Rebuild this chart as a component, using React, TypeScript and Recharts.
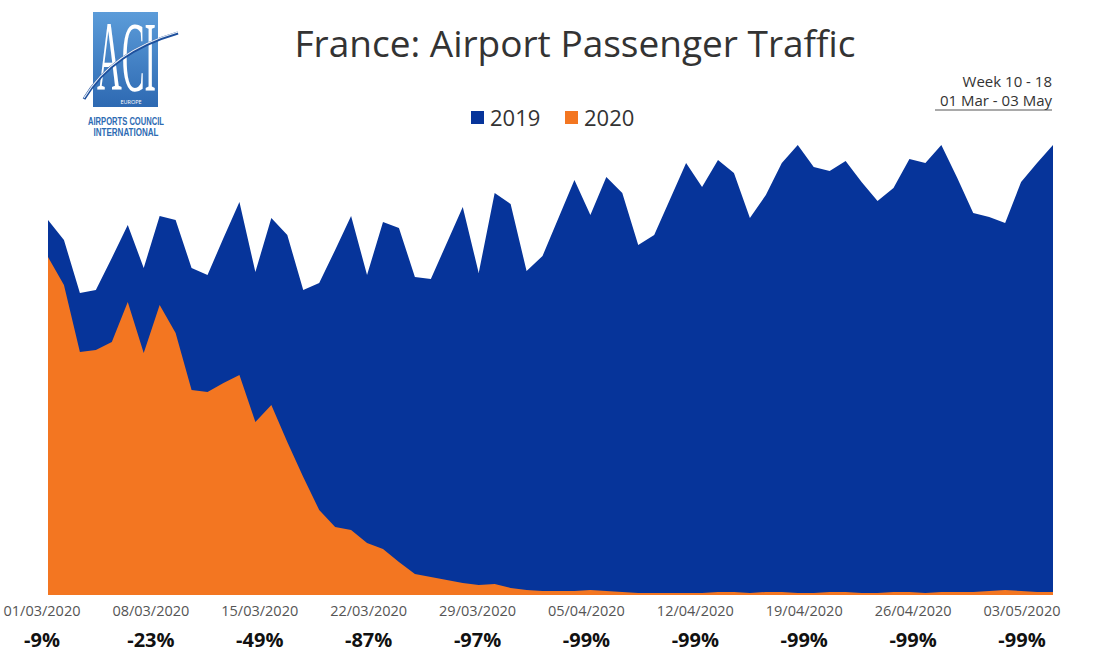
import React from "react";
import { AreaChart, Area, XAxis, YAxis, LineChart } from "recharts";

const dates: string[] = [
  "01/03","02/03","03/03","04/03","05/03","06/03","07/03","08/03","09/03","10/03",
  "11/03","12/03","13/03","14/03","15/03","16/03","17/03","18/03","19/03","20/03",
  "21/03","22/03","23/03","24/03","25/03","26/03","27/03","28/03","29/03","30/03",
  "31/03","01/04","02/04","03/04","04/04","05/04","06/04","07/04","08/04","09/04",
  "10/04","11/04","12/04","13/04","14/04","15/04","16/04","17/04","18/04","19/04",
  "20/04","21/04","22/04","23/04","24/04","25/04","26/04","27/04","28/04","29/04",
  "30/04","01/05","02/05","03/05",
];

// daily passengers (thousands, approximate)
const pax2019: number[] = [
  375,355,302,305,337,370,327,379,375,327,
  320,357,393,323,377,360,305,312,345,379,
  320,373,367,318,316,352,388,322,402,391,
  324,339,377,415,380,418,402,350,360,396,
  432,408,435,422,377,400,432,450,428,424,
  434,413,394,407,436,432,450,417,382,378,
  372,413,432,450,
];

const pax2020: number[] = [
  338,310,243,245,253,293,242,290,262,205,
  203,212,220,173,190,153,118,85,68,65,
  52,46,33,21,18,15,12,10,11,7,
  5,4,4,4,5,4,3,2,2,2,
  2,2,3,3,2,3,3,2,2,3,
  3,2,2,3,3,2,3,3,3,4,
  5,4,3,3,
];

const weekDates: string[] = [
  "01/03/2020","08/03/2020","15/03/2020","22/03/2020","29/03/2020",
  "05/04/2020","12/04/2020","19/04/2020","26/04/2020","03/05/2020",
];
const weekChanges: string[] = ["-9%","-23%","-49%","-87%","-97%","-99%","-99%","-99%","-99%","-99%"];

const series = [
  { key: "y2019", name: "2019", color: "#06349a" },
  { key: "y2020", name: "2020", color: "#f37621" },
];

const data = dates.map((d, i) => ({ date: d, y2019: pax2019[i], y2020: pax2020[i] }));
const weekData = weekDates.map((d, i) => ({ week: d, change: weekChanges[i] }));

const FONT = "'Open Sans', 'Liberation Sans', sans-serif";

const WeekTick = (props: any) => {
  const { x, y, payload, index } = props;
  return (
    <g>
      <text x={x} y={y + 13} textAnchor="middle" fontFamily={FONT} fontSize={14.5} fill="#555555">
        {payload.value}
      </text>
      <text x={x} y={y + 44} textAnchor="middle" fontFamily={FONT} fontSize={20} fontWeight={700} fill="#111111">
        {weekChanges[index]}
      </text>
    </g>
  );
};

const Logo = () => (
  <svg width={300} height={150} style={{ position: "absolute", left: 0, top: 0 }}>
    <defs>
      <linearGradient id="aciG" x1="0" y1="0" x2="0" y2="1">
        <stop offset="0" stopColor="#5c9cd9" />
        <stop offset="1" stopColor="#2d69b2" />
      </linearGradient>
    </defs>
    <rect x={93} y={12} width={65} height={95} fill="url(#aciG)" />
    <text x={97} y={90} fontFamily="'Liberation Serif', serif" fontSize={100} fill="#ffffff" textLength={59} lengthAdjust="spacingAndGlyphs">
      ACI
    </text>
    <path d="M 84 99 Q 112 52 178 33" stroke="#1d4f9c" strokeWidth={3} fill="none" />
    <path d="M 84 98 Q 112 51 178 32" stroke="#e8eef7" strokeWidth={1.2} fill="none" />
    <text x={131} y={104} textAnchor="middle" fontFamily={FONT} fontSize={5.5} fill="#ffffff">EUROPE</text>
    <text x={126} y={125} textAnchor="middle" fontFamily="'Liberation Sans', sans-serif" fontWeight={700} fontSize={11} fill="#2d6bb3" textLength={76} lengthAdjust="spacingAndGlyphs">
      AIRPORTS COUNCIL
    </text>
    <text x={126} y={136} textAnchor="middle" fontFamily="'Liberation Sans', sans-serif" fontWeight={700} fontSize={11} fill="#2d6bb3" textLength={65} lengthAdjust="spacingAndGlyphs">
      INTERNATIONAL
    </text>
  </svg>
);

const Overlay = () => (
  <svg width={1097} height={653} style={{ position: "absolute", left: 0, top: 0, pointerEvents: "none" }}>
    <text x={575} y={57} textAnchor="middle" fontFamily={FONT} fontSize={37} fill="#333333">
      France: Airport Passenger Traffic
    </text>
    {series.map((s, i) => (
      <g key={s.key}>
        <rect x={471 + i * 94} y={111} width={13} height={13} fill={s.color} />
        <text x={490 + i * 94} y={126} fontFamily={FONT} fontSize={22} fill="#333333">{s.name}</text>
      </g>
    ))}
    <text x={1052} y={87} textAnchor="end" fontFamily={FONT} fontSize={15} fill="#333333">Week 10 - 18</text>
    <text x={1052} y={106} textAnchor="end" fontFamily={FONT} fontSize={15} fill="#333333">
      01 Mar - 03 May
    </text>
    <line x1={935} x2={1052} y1={110} y2={110} stroke="#555" strokeWidth={1} />
  </svg>
);

export default function App() {
  return (
    <div style={{ position: "absolute", left: 0, top: 0, width: 1097, height: 653, background: "#ffffff" }}>
      <AreaChart
        width={1097}
        height={653}
        data={data}
        margin={{ top: 145, right: 44, bottom: 58, left: 48 }}
      >
        <XAxis dataKey="date" hide />
        <YAxis hide domain={[0, 450]} allowDataOverflow />
        {series.map((s) => (
          <Area
            key={s.key}
            type="linear"
            dataKey={s.key}
            name={s.name}
            fill={s.color}
            fillOpacity={1}
            stroke="none"
            isAnimationActive={false}
            dot={false}
            activeDot={false}
          />
        ))}
      </AreaChart>
      <div style={{ position: "absolute", left: 0, top: 593 }}>
        <LineChart width={1097} height={60} data={weekData} margin={{ top: 0, right: 75, bottom: 0, left: 42 }}>
          <XAxis
            dataKey="week"
            type="category"
            interval={0}
            height={58}
            axisLine={false}
            tickLine={false}
            tick={<WeekTick />}
          />
          <YAxis hide />
        </LineChart>
      </div>
      <Logo />
      <Overlay />
    </div>
  );
}
